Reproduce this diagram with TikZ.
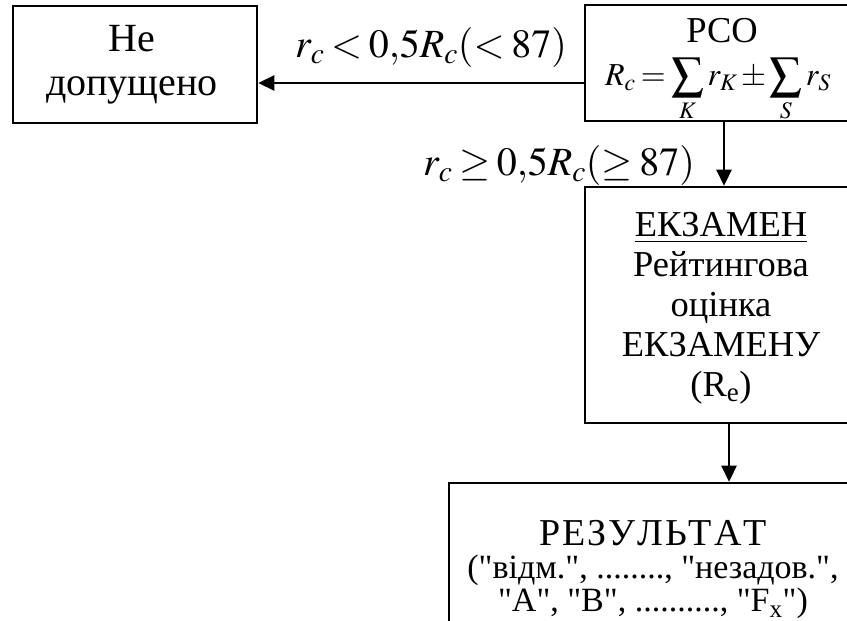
\documentclass[tikz,border=0pt]{standalone}
\usepackage{mathptmx}
\usepackage{fontspec}
\setmainfont{Liberation Serif}
\newfontfamily\rawserif[Ligatures=TeXOff]{Liberation Serif}
\usetikzlibrary{arrows.meta}
\begin{document}
\begin{tikzpicture}[x=1pt,y=-1pt, line width=2.6pt,
  box/.style={draw, inner sep=0pt, align=center},
  bigtxt/.style={inner sep=0pt, align=center, font=\fontsize{40}{44}\selectfont},
  txt/.style={inner sep=0pt, align=center, font=\fontsize{36.5}{40}\selectfont},
  rtxt/.style={inner sep=0pt, align=center, font=\rawserif\fontsize{34}{33}\selectfont},
  conn/.style={-{Triangle[length=16pt,width=15pt]}},
  lbl/.style={inner sep=0pt, font=\fontsize{40}{48}\selectfont}]
\useasboundingbox (0,0) rectangle (847,621);
\clip (0,0) rectangle (847,621);
\node[box, minimum width=244pt, minimum height=117pt] (nd) at (135,64.5) {};
\node[bigtxt] (ndt) at (132,65) {Не\\допущено};
\node[box, minimum width=272pt, minimum height=116pt] (pco) at (721,63) {};
\node[txt] (pcot) at (722,31) {РСО};
\node[inner sep=0pt, font=\fontsize{32}{36}\selectfont] (pcoe) at (718,90)
  {$\thickmuskip=3mu\medmuskip=2mu\displaystyle R_c=\sum_K r_K\pm\sum_S r_S$};
\node[box, minimum width=272pt, minimum height=236pt] (ekz) at (721,305) {};
\node[txt] (ekzt) at (721,308)
  {\underline{ЕКЗАМЕН}\\Рейтингова\\оцінка\\ЕКЗАМЕНУ\\(R\textsubscript{e})};
\node[box, minimum width=406pt, minimum height=217pt] (res) at (652,591.5) {};
\node[rtxt] (rt) at (653,570) {{\fontsize{38}{33}\selectfont Р\kern2ptЕ\kern2ptЗ\kern2ptУ\kern2ptЛ\kern2ptЬ\kern2ptТ\kern2ptА\kern2ptТ}\\("відм.", ........, "незадов.",\\"A", "B", .........., "F\textsubscript{x}")};
\node[lbl] (l1) at (431,47) {$\thickmuskip=3mu r_c<0{,}5R_c(<87)$};
\node[lbl] (l2) at (559,165) {$\thickmuskip=3mu r_c\geq0{,}5R_c(\geq87)$};
\draw[conn] ([yshift=-20pt]pco.west) -- ([yshift=-20pt]pco.west -| nd.east);
\draw[conn] ([xshift=3pt]pco.south) -- ([xshift=3pt]ekz.north);
\draw[conn] ([xshift=8pt]ekz.south) -- ([xshift=8pt]ekz.south |- res.north);
\end{tikzpicture}
\end{document}
